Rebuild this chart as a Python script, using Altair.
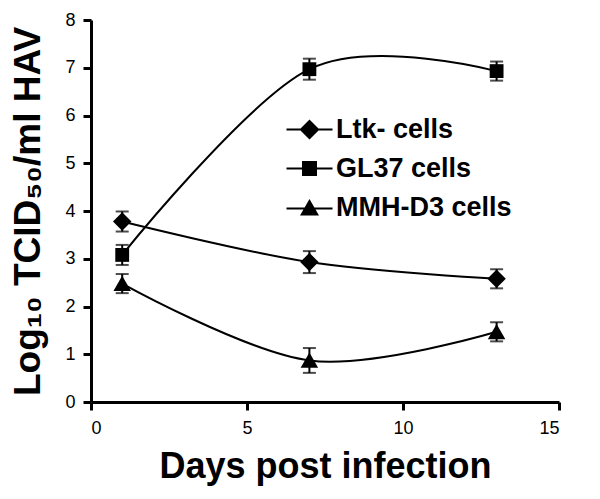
import altair as alt
import pandas as pd

days = [1, 7, 13]
series_names = ["Ltk- cells", "GL37 cells", "MMH-D3 cells"]
ltk_vals = [3.78, 2.93, 2.58]
ltk_err = [0.21, 0.23, 0.2]
gl37_vals = [3.08, 6.97, 6.93]
gl37_err = [0.21, 0.22, 0.2]
mmh_vals = [2.48, 0.87, 1.47]
mmh_err = [0.2, 0.26, 0.2]

rows = []
for name, vals, errs in [
    (series_names[0], ltk_vals, ltk_err),
    (series_names[1], gl37_vals, gl37_err),
    (series_names[2], mmh_vals, mmh_err),
]:
    for d, v, e in zip(days, vals, errs):
        rows.append({"series": name, "day": d, "value": v, "lo": v - e, "hi": v + e})
df = pd.DataFrame(rows)

FONT = "Liberation Sans"
xscale = alt.Scale(domain=[0, 15], nice=False, zero=False)
yscale = alt.Scale(domain=[0, 8], nice=False)

x_enc = alt.X(
    "day:Q",
    scale=xscale,
    axis=alt.Axis(
        title="Days post infection",
        values=[0, 5, 10, 15],
        grid=False,
        domainColor="black",
        domainWidth=3,
        tickColor="black",
        tickWidth=3,
        tickSize=8,
        labelFont=FONT,
        labelFontSize=18,
        labelColor="black",
        labelPadding=9,
        titleFont=FONT,
        titleFontSize=36,
        titleFontWeight="bold",
        titleColor="black",
        titlePadding=12,
    ),
)
y_enc = alt.Y(
    "value:Q",
    scale=yscale,
    axis=alt.Axis(
        title="Log\u2081\u2080 TCID\u2085\u2080/ml HAV",
        values=[0, 1, 2, 3, 4, 5, 6, 7, 8],
        grid=False,
        domainColor="black",
        domainWidth=3,
        tickColor="black",
        tickWidth=3,
        tickSize=8,
        labelFont=FONT,
        labelFontSize=18,
        labelColor="black",
        labelPadding=8,
        titleFont=FONT,
        titleFontSize=37,
        titleFontWeight="bold",
        titleColor="black",
        titlePadding=17,
    ),
)

base = alt.Chart(df)

lines = base.mark_line(interpolate="cardinal", color="black", strokeWidth=2).encode(
    x=x_enc, y=y_enc, detail="series:N"
)

bars = base.mark_rule(color="black", strokeWidth=2).encode(
    x="day:Q", y="lo:Q", y2="hi:Q"
)
cap_lo = base.mark_tick(color="black", thickness=2, size=13, orient="horizontal").encode(
    x="day:Q", y="lo:Q"
)
cap_hi = base.mark_tick(color="black", thickness=2, size=13, orient="horizontal").encode(
    x="day:Q", y="hi:Q"
)

marker_paths = [
    "M0,-1L1,0L0,1L-1,0Z",
    "M-0.75,-0.75H0.75V0.75H-0.75Z",
    "M0,-0.85L0.95,0.8L-0.95,0.8Z",
]
# legend symbols: marker plus a thin filled bar standing for the line
legend_paths = [
    "M-2.3,-0.1H2.3V0.1H-2.3ZM0,-1L1,0L0,1L-1,0Z",
    "M-2.3,-0.1H2.3V0.1H-2.3ZM-0.75,-0.75H0.75V0.75H-0.75Z",
    "M-2.3,0.0H2.3V0.2H-2.3ZM0,-0.85L0.95,0.8L-0.95,0.8Z",
]

points = base.mark_point(filled=True, opacity=1, color="black", size=340).encode(
    x="day:Q",
    y="value:Q",
    shape=alt.Shape(
        "series:N",
        scale=alt.Scale(domain=series_names, range=marker_paths),
        sort=series_names,
        legend=None,
    ),
)

# invisible layer whose only purpose is the legend (marker with a line through it)
legend_layer = base.mark_point(filled=True, color="black", opacity=0, size=340).encode(
    x="day:Q",
    y="value:Q",
    shape=alt.Shape(
        "series:N",
        scale=alt.Scale(domain=series_names, range=legend_paths),
        sort=series_names,
        legend=alt.Legend(
            title=None,
            orient="none",
            legendX=205,
            legendY=96,
            padding=0,
            symbolSize=400,
            labelOffset=13,
            rowPadding=11,
            labelLimit=400,
            labelFont=FONT,
            labelFontSize=27,
            labelFontWeight="bold",
            labelColor="black",
            symbolFillColor="black",
            symbolOpacity=1,
        ),
    ),
)

chart = (
    alt.layer(lines, bars, cap_lo, cap_hi, points, legend_layer)
    .resolve_scale(shape="independent")
    .properties(
        width=468,
        height=382,
        autosize=alt.AutoSizeParams(type="none"),
        padding={"left": 83, "top": 12, "right": 33, "bottom": 89},
        background="white",
    )
    .configure_view(stroke=None)
)

chart.save("out.html", embed_options={"renderer": "svg", "actions": False})
